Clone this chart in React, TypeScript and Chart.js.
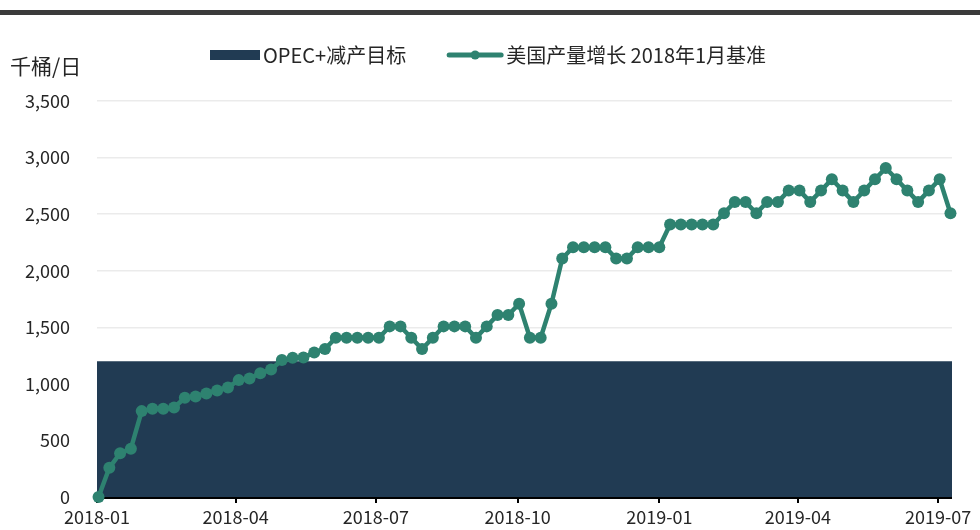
import React, { useEffect, useRef } from "react";
import { Chart, registerables } from "chart.js";

Chart.register(...registerables);

// ---- data ----
const Y_TITLE = "千桶/日";
const SERIES_OPEC = "OPEC+减产目标";
const SERIES_US = "美国产量增长 2018年1月基准";

// x tick positions (days since 2018-01-01) and labels
const tickDays = [0, 90, 181, 273, 365, 455, 546];
const tickLabels = ["2018-01", "2018-04", "2018-07", "2018-10", "2019-01", "2019-04", "2019-07"];

// weekly observations: first week offset (days) and step
const FIRST_DAY = 1;
const WEEK_STEP = 7;
const X_MAX = 555;

// US crude output growth vs Jan-2018 (kb/d), weekly
const usGrowth = [
  0, 258, 387, 427, 759, 779, 779, 791, 877, 889, 915, 941, 968, 1033, 1048, 1094, 1127, 1211, 1231, 1233, 1277, 1308,
  1408, 1408, 1408, 1408, 1408, 1508, 1508, 1408, 1308, 1408, 1508, 1508, 1508, 1408, 1508, 1608, 1608, 1708, 1408, 1408,
  1708, 2108, 2208, 2208, 2208, 2208, 2108, 2108, 2208, 2208, 2208, 2408, 2408, 2408, 2408, 2408, 2508, 2608, 2608, 2508,
  2608, 2608, 2708, 2708, 2608, 2708, 2808, 2708, 2608, 2708, 2808, 2908, 2808, 2708, 2608, 2708, 2808, 2508,
];

// OPEC+ cut target (kb/d)
const opecTarget = [1200, 1200];

const yTicks = { min: 0, max: 3500, step: 500 };

// ---- styles ----
const FONT = '"Noto Sans CJK SC", "Noto Sans", sans-serif';
const NAVY = "#213b53";
const TEAL = "#2e8270";
const TEXT = "#262626";

export default function App() {
  const ref = useRef<HTMLCanvasElement>(null);

  useEffect(() => {
    const canvas = ref.current!;
    const usPoints = usGrowth.map((v, i) => ({ x: FIRST_DAY + WEEK_STEP * i, y: v }));
    const opecPoints = [
      { x: 0, y: opecTarget[0] },
      { x: X_MAX, y: opecTarget[1] },
    ];

    const decor = {
      id: "decor",
      afterDatasetDraw(chart: any, args: any) {
        if (args.index !== 0) return;
        const { ctx, chartArea } = chart;
        ctx.save();
        ctx.strokeStyle = "#000";
        ctx.lineWidth = 2;
        ctx.beginPath();
        ctx.moveTo(chartArea.left, chartArea.bottom + 1);
        ctx.lineTo(chartArea.right, chartArea.bottom + 1);
        ctx.stroke();
        ctx.restore();
      },
      afterDraw(chart: any) {
        const ctx = chart.ctx as CanvasRenderingContext2D;
        ctx.save();
        // top rule
        ctx.fillStyle = "#3b3b3b";
        ctx.fillRect(0, 10, chart.width, 5);
        // y title
        ctx.fillStyle = TEXT;
        ctx.font = `21px ${FONT}`;
        ctx.textBaseline = "middle";
        ctx.textAlign = "left";
        ctx.fillText(Y_TITLE, 10, 66);
        // legend
        const ly = 55;
        ctx.font = `20px ${FONT}`;
        let x = 210;
        ctx.fillStyle = NAVY;
        ctx.fillRect(x, ly - 5, 50, 10);
        x += 53;
        ctx.fillStyle = TEXT;
        ctx.fillText(SERIES_OPEC, x, ly);
        x += ctx.measureText(SERIES_OPEC).width + 41;
        ctx.strokeStyle = TEAL;
        ctx.lineWidth = 5;
        ctx.lineCap = "round";
        ctx.beginPath();
        ctx.moveTo(x + 2, ly);
        ctx.lineTo(x + 54, ly);
        ctx.stroke();
        ctx.fillStyle = TEAL;
        ctx.beginPath();
        ctx.arc(x + 28, ly, 4.5, 0, Math.PI * 2);
        ctx.fill();
        x += 59;
        ctx.fillStyle = TEXT;
        ctx.fillText(SERIES_US, x, ly);
        ctx.restore();
      },
    };

    const chart = new Chart(canvas, {
      type: "line",
      data: {
        datasets: [
          {
            label: SERIES_OPEC,
            data: opecPoints,
            backgroundColor: NAVY,
            borderColor: NAVY,
            borderWidth: 0,
            pointRadius: 0,
            fill: "origin",
            order: 1,
          } as any,
          {
            label: SERIES_US,
            data: usPoints,
            borderColor: TEAL,
            backgroundColor: TEAL,
            borderWidth: 4.5,
            pointRadius: 6,
            pointBackgroundColor: TEAL,
            pointBorderWidth: 0,
            fill: false,
            tension: 0,
            clip: false,
            order: 0,
          } as any,
        ],
      },
      options: {
        animation: false,
        responsive: false,
        devicePixelRatio: 1,
        layout: { padding: { top: 101, right: 28, left: 0, bottom: 0 } },
        plugins: { legend: { display: false }, tooltip: { enabled: false } },
        scales: {
          x: {
            type: "linear",
            min: 0,
            max: X_MAX,
            afterBuildTicks: (s: any) => {
              s.ticks = tickDays.map((v) => ({ value: v }));
            },
            ticks: {
              autoSkip: false,
              maxRotation: 0,
              padding: 3,
              color: TEXT,
              font: { family: FONT, size: 18 },
              callback: (_v: any, i: number) => tickLabels[i],
            },
            grid: { drawOnChartArea: false, drawTicks: true, tickLength: 6, color: "#000", lineWidth: 2 },
            border: { display: false },
            afterFit: (s: any) => {
              s.height = 33;
              s.paddingLeft = 0;
              s.paddingRight = 0;
            },
          },
          y: {
            min: yTicks.min,
            max: yTicks.max,
            ticks: {
              stepSize: yTicks.step,
              padding: 27,
              color: TEXT,
              font: { family: FONT, size: 18 },
              callback: (v: any) => Number(v).toLocaleString("en-US"),
            },
            grid: { color: "#ebebeb", lineWidth: 1.5, drawTicks: false },
            border: { display: false },
            afterFit: (s: any) => {
              s.width = 97;
              s.paddingTop = 0;
              s.paddingBottom = 0;
            },
          },
        },
      },
      plugins: [decor],
    });
    return () => chart.destroy();
  }, []);

  return (
    <div style={{ position: "absolute", left: 0, top: 0, width: 980, height: 530, background: "#fff" }}>
      <canvas ref={ref} width={980} height={530} />
    </div>
  );
}
